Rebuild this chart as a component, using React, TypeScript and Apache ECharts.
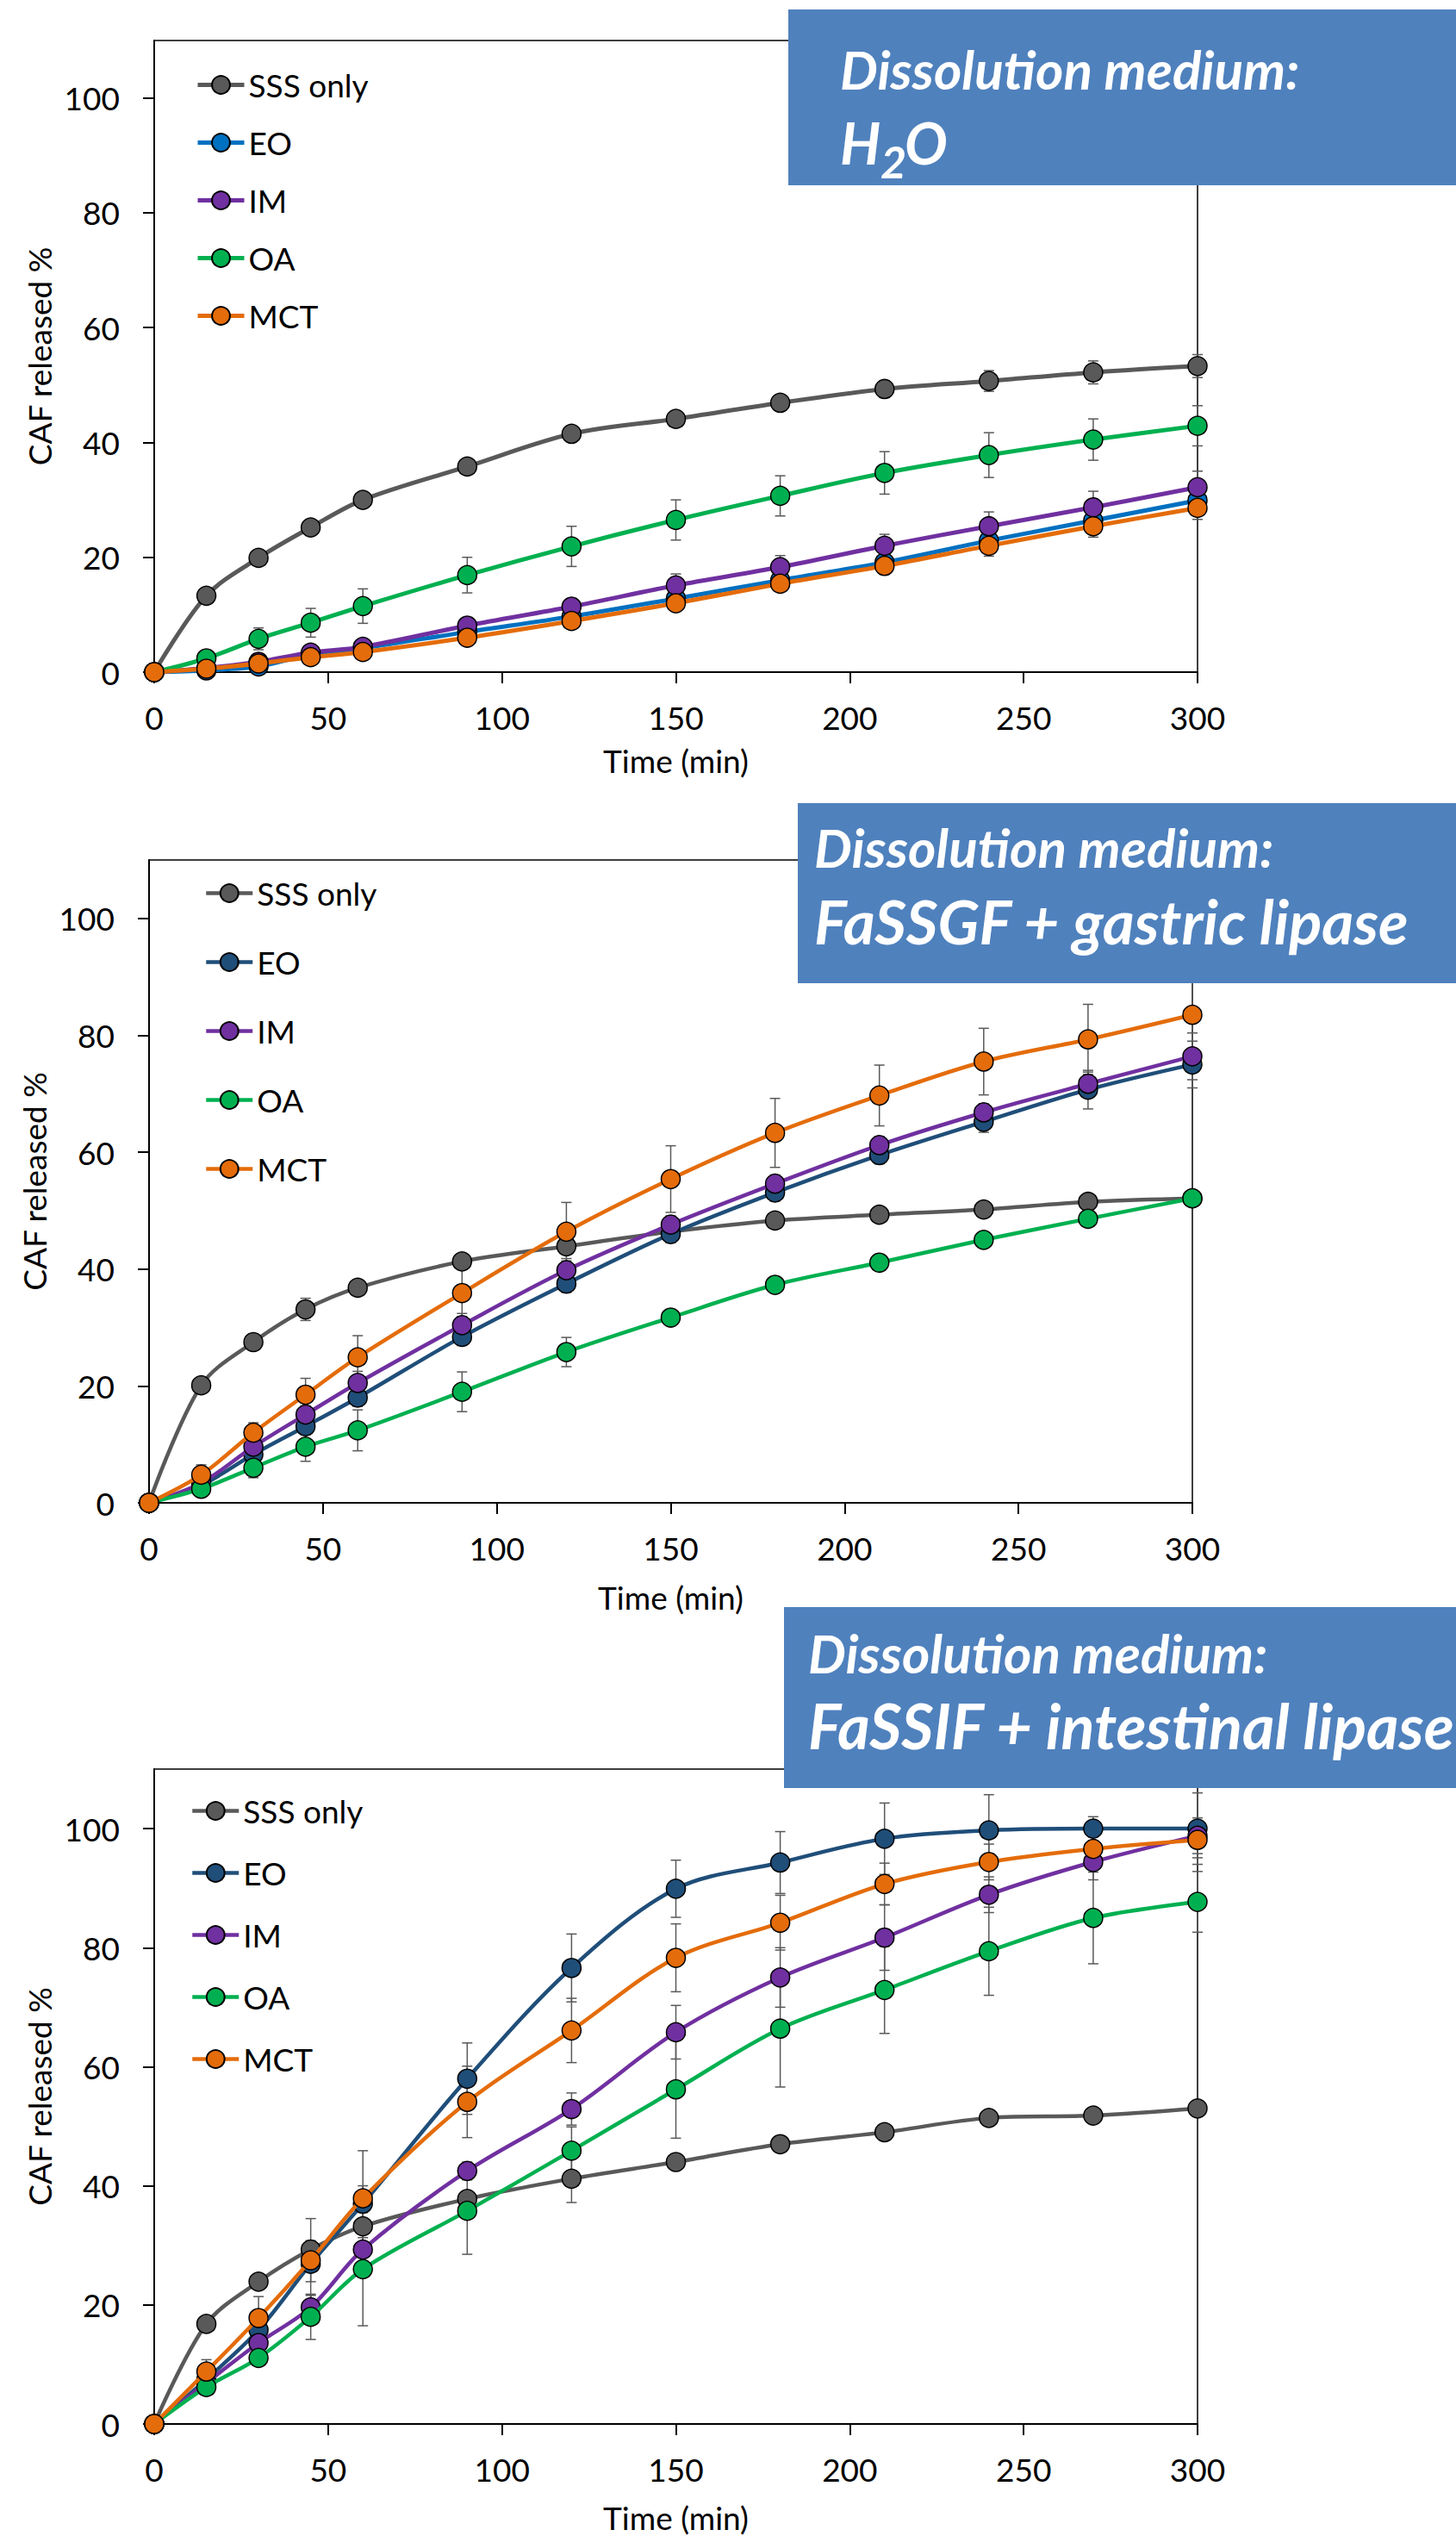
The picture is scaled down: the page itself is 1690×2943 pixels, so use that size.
import React, { useEffect, useRef } from "react";
import * as echarts from "echarts";

const times = [0, 15, 30, 45, 60, 90, 120, 150, 180, 210, 240, 270, 300];
const seriesLabels = ["SSS only", "EO", "IM", "OA", "MCT"];
const xTicks = [0, 50, 100, 150, 200, 250, 300];
const yTicks = [0, 20, 40, 60, 80, 100];

// Chart 1: H2O
const sss1 = [0, 13.3, 19.9, 25.2, 30.0, 35.8, 41.5, 44.1, 46.9, 49.3, 50.7, 52.2, 53.3];
const eo1 = [0, 0.3, 1.0, 3.1, 4.2, 7.0, 9.7, 12.8, 16.0, 19.1, 22.9, 26.4, 29.9];
const im1 = [0, 0.7, 1.8, 3.4, 4.4, 8.1, 11.4, 15.1, 18.3, 22.0, 25.4, 28.7, 32.2];
const oa1 = [0, 2.4, 5.8, 8.6, 11.5, 16.9, 21.9, 26.5, 30.7, 34.7, 37.8, 40.5, 42.9];
const mct1 = [0, 0.6, 1.5, 2.6, 3.5, 6.0, 8.9, 12.0, 15.4, 18.5, 22.0, 25.4, 28.6];
const sssE1 = [0, 0.5, 0.5, 0.5, 0.5, 0.5, 0.5, 0.5, 0.5, 1.5, 1.8, 2.0, 2.0];
const eoE1 = [0, 0, 0.3, 0.5, 0.5, 0.5, 0.5, 0.8, 1, 1, 1.5, 1.8, 2];
const imE1 = [0, 0, 0.3, 0.5, 0.5, 1, 1, 2, 2, 2, 2.5, 2.8, 2.8];
const oaE1 = [0, 0.5, 1.9, 2.5, 3, 3.1, 3.5, 3.5, 3.5, 3.7, 3.9, 3.6, 3.5];
const mctE1 = [0, 0.3, 0.5, 0.5, 0.5, 0.8, 1, 1, 1.2, 1.5, 1.8, 1.9, 2];

// Chart 2: FaSSGF + gastric lipase
const sss2 = [0, 20.1, 27.5, 33.1, 36.8, 41.3, 43.9, 46.4, 48.3, 49.3, 50.2, 51.5, 52.1];
const eo2 = [0, 3.0, 8.3, 13.1, 18.0, 28.4, 37.5, 46.0, 53.1, 59.5, 65.2, 70.7, 75.0];
const im2 = [0, 3.4, 9.6, 15.1, 20.5, 30.4, 39.8, 47.6, 54.6, 61.2, 66.8, 71.7, 76.4];
const oa2 = [0, 2.4, 6.0, 9.6, 12.4, 19.0, 25.8, 31.7, 37.3, 41.1, 45.0, 48.6, 52.1];
const mct2 = [0, 4.8, 12.0, 18.5, 24.9, 35.9, 46.4, 55.4, 63.3, 69.7, 75.5, 79.3, 83.5];
const sssE2 = [0, 0.5, 1, 1.9, 1.2, 1, 0.8, 0.8, 0.5, 0.5, 0.5, 0.5, 0.5];
const eoE2 = [0, 0.5, 1, 1.5, 1.5, 1.5, 1.5, 1.5, 1.5, 1.5, 1.8, 3.3, 4];
const imE2 = [0, 0.5, 1, 1.5, 2, 2, 2, 1.5, 1.5, 1.5, 1.5, 2, 4];
const oaE2 = [0, 0.5, 1.7, 2.5, 3.5, 3.4, 2.5, 1, 1, 1, 1, 1, 1];
const mctE2 = [0, 1.7, 1.7, 2.8, 3.7, 4, 5, 5.7, 5.9, 5.2, 5.7, 6, 6.7];

// Chart 3: FaSSIF + intestinal lipase
const sss3 = [0, 16.8, 23.9, 29.3, 33.2, 37.8, 41.2, 44.0, 47.0, 49.0, 51.4, 51.8, 53.0];
const eo3 = [0, 7.5, 15.8, 26.9, 37.0, 58.0, 76.6, 89.9, 94.3, 98.3, 99.7, 100.0, 100.0];
const im3 = [0, 6.9, 13.6, 19.6, 29.3, 42.5, 52.9, 65.8, 75.0, 81.7, 88.9, 94.4, 98.8];
const oa3 = [0, 6.2, 11.1, 18.0, 26.0, 35.8, 45.9, 56.2, 66.4, 72.9, 79.4, 85.0, 87.7];
const mct3 = [0, 8.8, 17.8, 27.5, 37.9, 54.1, 66.1, 78.3, 84.2, 90.7, 94.4, 96.6, 98.1];
const sssE3 = [0, 0.5, 0.5, 1.5, 1, 1, 4, 0.8, 0.8, 0.8, 0.8, 0.8, 0.8];
const eoE3 = [0, 0.5, 2, 3, 3, 6, 5.7, 4.8, 5.2, 6, 6, 2, 6];
const imE3 = [0, 0.5, 1.5, 2, 2, 1.5, 2.7, 4.5, 5, 5.5, 3, 3, 3];
const oaE3 = [0, 0.5, 1.2, 3.8, 9.5, 7.3, 4, 8.2, 9.8, 7.3, 7.4, 7.7, 5.1];
const mctE3 = [0, 2, 3.6, 7, 8, 6, 5.4, 5.7, 4.6, 3.5, 3, 2, 3];

const FONT = "Lato";

const panels = [
  {
    id: "H2O",
    values: [sss1, eo1, im1, oa1, mct1],
    errors: [sssE1, eoE1, imE1, oaE1, mctE1],
    colors: ["#595959", "#0070C0", "#7030A0", "#00B050", "#E46C0A"],
    grid: { left: 179, top: 47, width: 1211, height: 733 },
    lineWidth: 5,
    legend: { left: 227, top: 80, itemGap: 30 },
    nameGapX: 84,
    nameGapY: 108,
  },
  {
    id: "FaSSGF",
    values: [sss2, eo2, im2, oa2, mct2],
    errors: [sssE2, eoE2, imE2, oaE2, mctE2],
    colors: ["#595959", "#1F4E79", "#7030A0", "#00B050", "#E46C0A"],
    grid: { left: 173, top: 998, width: 1211, height: 746 },
    lineWidth: 4.5,
    legend: { left: 237, top: 1018, itemGap: 43 },
    nameGapX: 91,
    nameGapY: 106,
  },
  {
    id: "FaSSIF",
    values: [sss3, eo3, im3, oa3, mct3],
    errors: [sssE3, eoE3, imE3, oaE3, mctE3],
    colors: ["#595959", "#1F4E79", "#7030A0", "#00B050", "#E46C0A"],
    grid: { left: 179, top: 2053, width: 1211, height: 760 },
    lineWidth: 4.5,
    legend: { left: 221, top: 2083, itemGap: 35 },
    nameGapX: 90,
    nameGapY: 108,
  },
];

function buildOption() {
  const grids: any[] = [];
  const xAxes: any[] = [];
  const yAxes: any[] = [];
  const series: any[] = [];
  const legends: any[] = [];

  panels.forEach((p, k) => {
    grids.push({
      ...p.grid,
      show: true,
      borderColor: "#000",
      borderWidth: 1.5,
      backgroundColor: "transparent",
      containLabel: false,
    });
    xAxes.push({
      type: "value",
      gridIndex: k,
      min: 0,
      max: 300,
      interval: 50,
      name: "Time (min)",
      nameLocation: "middle",
      nameGap: p.nameGapX,
      nameTextStyle: { fontFamily: FONT, fontSize: 37, color: "#000" },
      axisLine: { show: true, lineStyle: { color: "#000", width: 2 } },
      axisTick: { show: true, inside: false, length: 13, lineStyle: { color: "#000", width: 2 }, customValues: xTicks },
      axisLabel: { margin: 34, fontFamily: FONT, fontSize: 37, color: "#000", customValues: xTicks },
      splitLine: { show: false },
    });
    yAxes.push({
      type: "value",
      gridIndex: k,
      min: 0,
      max: 110,
      interval: 20,
      name: "CAF released %",
      nameLocation: "middle",
      nameGap: p.nameGapY,
      nameTextStyle: { fontFamily: FONT, fontSize: 37, color: "#000" },
      axisLine: { show: true, lineStyle: { color: "#000", width: 2 } },
      axisTick: { show: true, inside: false, length: 13, lineStyle: { color: "#000", width: 2 }, customValues: yTicks },
      axisLabel: { margin: 40, fontFamily: FONT, fontSize: 37, color: "#000", customValues: yTicks },
      splitLine: { show: false },
    });

    const names: string[] = [];
    seriesLabels.forEach((label, s) => {
      const name = `${p.id}|${label}`;
      names.push(name);
      const vals = p.values[s];
      const errs = p.errors[s];
      series.push({
        type: "custom",
        name: `${p.id}|${label}|err`,
        xAxisIndex: k,
        yAxisIndex: k,
        z: 1,
        silent: true,
        clip: false,
        encode: { x: 0, y: 1 },
        data: times.map((t, i) => [t, vals[i], errs[i]]).filter((d) => d[2] > 0),
        renderItem: (params: any, api: any) => {
          const x = api.value(0);
          const y = api.value(1);
          const e = api.value(2);
          const top = api.coord([x, y + e]);
          const bot = api.coord([x, Math.max(0, y - e)]);
          const style = { stroke: "#595959", lineWidth: 1.5 };
          const half = 6;
          return {
            type: "group",
            children: [
              { type: "line", shape: { x1: top[0], y1: top[1], x2: bot[0], y2: bot[1] }, style },
              { type: "line", shape: { x1: top[0] - half, y1: top[1], x2: top[0] + half, y2: top[1] }, style },
              { type: "line", shape: { x1: bot[0] - half, y1: bot[1], x2: bot[0] + half, y2: bot[1] }, style },
            ],
          };
        },
      });
      series.push({
        type: "line",
        name,
        xAxisIndex: k,
        yAxisIndex: k,
        z: 2 + s,
        data: times.map((t, i) => [t, vals[i]]),
        smooth: 0.33,
        symbol: "circle",
        symbolSize: 22,
        showAllSymbol: true,
        lineStyle: { color: p.colors[s], width: p.lineWidth },
        itemStyle: { color: p.colors[s], borderColor: "#000", borderWidth: 1.5 },
        emphasis: { disabled: true },
      });
    });

    legends.push({
      data: names,
      orient: "vertical",
      left: p.legend.left,
      top: p.legend.top,
      itemGap: p.legend.itemGap,
      itemWidth: 54,
      itemHeight: 26,
      padding: 0,
      selectedMode: false,
      lineStyle: { width: p.lineWidth },
      formatter: (n: string) => n.split("|")[1],
      textStyle: { fontFamily: FONT, fontSize: 37, color: "#000", padding: [0, 0, 0, 0] },
    });
  });

  const titleStyle = (size: number) => ({
    fill: "#fff",
    fontFamily: FONT,
    fontWeight: "bold",
    fontStyle: "italic",
    fontSize: size,
    verticalAlign: "middle",
    align: "left",
  });

  const graphic: any[] = [
    { type: "rect", z: 100, shape: { x: 915, y: 11, width: 775, height: 204 }, style: { fill: "#4F81BD" } },
    { type: "text", z: 101, x: 975, y: 80, style: { text: "Dissolution medium:", ...titleStyle(62) } },
    { type: "text", z: 101, x: 975, y: 165, style: { text: "H", ...titleStyle(66) } },
    { type: "text", z: 101, x: 1022, y: 187, style: { text: "2", ...titleStyle(52) } },
    { type: "text", z: 101, x: 1050, y: 165, style: { text: "O", ...titleStyle(66) } },

    { type: "rect", z: 100, shape: { x: 926, y: 932, width: 764, height: 209 }, style: { fill: "#4F81BD" } },
    { type: "text", z: 101, x: 945, y: 983, style: { text: "Dissolution medium:", ...titleStyle(62) } },
    { type: "text", z: 101, x: 945, y: 1068, style: { text: "FaSSGF + gastric lipase", ...titleStyle(71) } },

    { type: "rect", z: 100, shape: { x: 910, y: 1865, width: 780, height: 210 }, style: { fill: "#4F81BD" } },
    { type: "text", z: 101, x: 938, y: 1918, style: { text: "Dissolution medium:", ...titleStyle(62) } },
    { type: "text", z: 101, x: 938, y: 2002, style: { text: "FaSSIF + intestinal lipase", ...titleStyle(72) } },
  ];

  return {
    animation: false,
    backgroundColor: "#fff",
    textStyle: { fontFamily: FONT },
    grid: grids,
    xAxis: xAxes,
    yAxis: yAxes,
    legend: legends,
    series,
    graphic,
  };
}

export default function App() {
  const ref = useRef<HTMLDivElement>(null);
  useEffect(() => {
    if (!ref.current) return;
    const chart = echarts.init(ref.current, undefined, { renderer: "svg" });
    chart.setOption(buildOption() as any);
    return () => chart.dispose();
  }, []);
  return (
    <div
      ref={ref}
      style={{ position: "absolute", left: 0, top: 0, width: 1690, height: 2943, background: "#fff" }}
    />
  );
}
